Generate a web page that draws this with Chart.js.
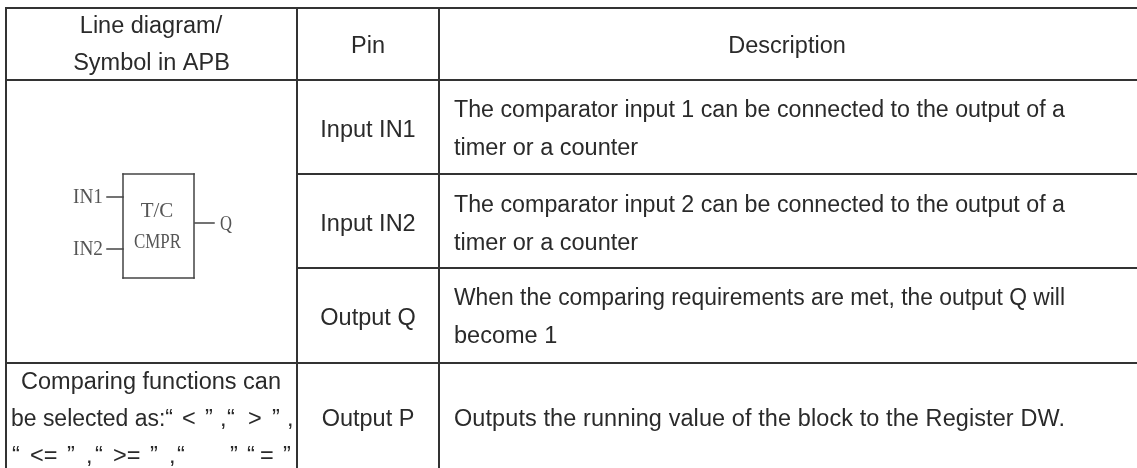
<!DOCTYPE html>
<html>
<head>
<meta charset="utf-8">
<title>T/C CMPR pin table</title>
<script src="https://cdn.jsdelivr.net/npm/chart.js@4/dist/chart.umd.min.js"></script>
<style>
  html, body { margin: 0; padding: 0; background: #fff; overflow: hidden; }
  canvas { display: block; }
</style>
</head>
<body>
<canvas id="table" width="1137" height="468"></canvas>
<script>
// Table content
var headerCol1 = ['Line diagram/', 'Symbol in APB'];
var headerPin = 'Pin';
var headerDesc = 'Description';
var pins = ['Input IN1', 'Input IN2', 'Output Q', 'Output P'];
var descriptions = [
  ['The comparator input 1 can be connected to the output of a', 'timer or a counter'],
  ['The comparator input 2 can be connected to the output of a', 'timer or a counter'],
  ['When the comparing requirements are met, the output Q will', 'become 1'],
  ['Outputs the running value of the block to the Register DW.']
];
var functionsTitle = 'Comparing functions can';
var functionsLine2 = ['be selected as:\u201C', '<', '\u201D', ',', '\u201C', '>', '\u201D', ','];
var functionsLine3 = ['\u201C', '<=', '\u201D', ',', '\u201C', '>=', '\u201D', ',', '\u201C', '\u201D', '\u201C', '=', '\u201D'];
var symbolLabels = ['IN1', 'IN2', 'T/C', 'CMPR', 'Q'];

// Grid lines, in image units
var columnEdges = [6, 297, 439];
var rowEdges = [8, 80, 174, 268, 363];
var pageWidth = 1137;
var pageHeight = 468;

// Symbol outline and its three pins
var symbolBox = { left: 123, right: 194, top: 174, bottom: 278 };
var symbolPins = [
  [107, 197, 123, 197],
  [107, 249, 123, 249],
  [195, 223, 214, 223]
];

function segment(x1, y1, x2, y2, width, color) {
  return {
    data: [{ x: x1, y: y1 }, { x: x2, y: y2 }],
    showLine: true,
    pointRadius: 0,
    borderWidth: width,
    borderColor: color,
    borderCapStyle: 'square'
  };
}

var datasets = [];

// Top, header and bottom-row lines run the full width
[rowEdges[0], rowEdges[1], rowEdges[4]].forEach(function(y) {
  datasets.push(segment(columnEdges[0], y, pageWidth, y, 2, '#333'));
});
// Pin rows only start at the second column
[rowEdges[2], rowEdges[3]].forEach(function(y) {
  datasets.push(segment(columnEdges[1], y, pageWidth, y, 2, '#333'));
});
columnEdges.forEach(function(x) {
  datasets.push(segment(x, rowEdges[0], x, pageHeight, 2, '#333'));
});

var b = symbolBox;
datasets.push(segment(b.left, b.top, b.right, b.top, 1.5, '#444'));
datasets.push(segment(b.left, b.bottom, b.right, b.bottom, 1.5, '#444'));
datasets.push(segment(b.left, b.top, b.left, b.bottom, 1.5, '#444'));
datasets.push(segment(b.right, b.top, b.right, b.bottom, 1.5, '#444'));
symbolPins.forEach(function(p) {
  datasets.push(segment(p[0], p[1], p[2], p[3], 1.5, '#444'));
});

// Draws all table text at scale positions.
var tableText = {
  id: 'tableText',
  afterDraw: function(chart) {
    var ctx = chart.ctx;
    var sx = chart.scales.x;
    var sy = chart.scales.y;

    function put(text, x, y, align, font, color, maxWidth) {
      ctx.font = font;
      ctx.fillStyle = color;
      ctx.textAlign = align;
      ctx.textBaseline = 'alphabetic';
      if (maxWidth) {
        ctx.fillText(text, sx.getPixelForValue(x), sy.getPixelForValue(y), maxWidth);
      } else {
        ctx.fillText(text, sx.getPixelForValue(x), sy.getPixelForValue(y));
      }
    }

    var sans = '23.5px "Liberation Sans"';
    var ink = '#2a2a2a';
    ctx.save();

    put(headerCol1[0], 151, 33, 'center', sans, ink);
    put(headerCol1[1], 151.5, 70, 'center', sans, ink);
    put(headerPin, 368, 53, 'center', sans, ink);
    put(headerDesc, 787, 53, 'center', sans, ink);

    var pinY = [137, 231, 325, 426];
    pins.forEach(function(p, i) { put(p, 368, pinY[i], 'center', sans, ink); });

    var descY = [[117, 155], [212, 250], [305, 343], [426]];
    descriptions.forEach(function(lines, i) {
      // Last row is set a touch wider in the original
      ctx.letterSpacing = i === 3 ? '0.1px' : '0px';
      lines.forEach(function(line, j) { put(line, 454, descY[i][j], 'left', sans, ink, 611); });
    });
    ctx.letterSpacing = '0px';

    put(functionsTitle, 151, 389, 'center', sans, ink);
    var line2X = [11, 182, 205, 220, 227, 248, 272, 287];
    functionsLine2.forEach(function(t, i) { put(t, line2X[i], 426, 'left', sans, ink, i === 0 ? 162 : 0); });
    var line3X = [12, 30, 67, 86, 95, 113, 150, 169, 177, 230, 247, 260, 283];
    functionsLine3.forEach(function(t, i) { put(t, line3X[i], 463, 'left', sans, ink); });

    var serif = '21px "Liberation Serif"';
    var thin = '#555';
    put(symbolLabels[0], 73, 203, 'left', serif, thin, 30);
    put(symbolLabels[1], 73, 255, 'left', serif, thin, 30);
    put(symbolLabels[2], 157, 217, 'center', serif, thin, 34);
    put(symbolLabels[3], 157.5, 248, 'center', serif, thin, 47);
    put(symbolLabels[4], 220, 230, 'left', serif, thin, 12);

    ctx.restore();
  }
};

new Chart(document.getElementById('table'), {
  type: 'scatter',
  data: { datasets: datasets },
  plugins: [tableText],
  options: {
    responsive: false,
    animation: false,
    events: [],
    layout: { padding: 0 },
    plugins: { legend: { display: false }, tooltip: { enabled: false } },
    elements: { line: { tension: 0 } },
    scales: {
      x: { type: 'linear', display: false, min: 0, max: pageWidth },
      y: { type: 'linear', display: false, min: 0, max: pageHeight, reverse: true }
    }
  }
});
</script>
</body>
</html>
